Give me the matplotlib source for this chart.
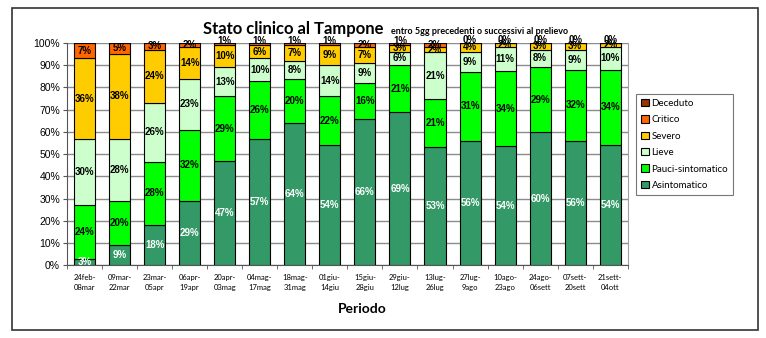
import numpy as np
import matplotlib.pyplot as plt
from matplotlib.patches import Patch, Rectangle

periodi = ['24feb-\n08mar', '09mar-\n22mar', '23mar-\n05apr', '06apr-\n19apr',
           '20apr-\n03mag', '04mag-\n17mag', '18mag-\n31mag', '01giu-\n14giu',
           '15giu-\n28giu', '29giu-\n12lug', '13lug-\n26lug', '27lug-\n9ago',
           '10ago-\n23ago', '24ago-\n06sett', '07sett-\n20sett', '21sett-\n04ott']

# valori in percentuale
asintomatico = [3, 9, 18.3, 29, 47, 57, 64, 54, 66, 69, 53.3, 56, 53.6, 60, 56, 54]
pauci = [24, 20, 28.3, 32, 29, 26, 20, 22, 16, 21, 21.3, 31, 33.8, 29, 32, 34]
lieve = [30, 28, 26.4, 23, 13, 10, 8, 14, 9, 6, 21.4, 9, 10.6, 8, 9, 10]
severo = [36, 38, 24, 14, 10, 6, 7, 9, 7, 3, 2, 4, 2, 3, 3, 2]
critico = [7, 5, 3, 2, 1, 1, 1, 1, 2, 1, 2, 0, 0, 0, 0, 0]
deceduto = [0, 0, 0, 0, 0.4, 0.3, 0, 0, 0, 0, 0, 0, 0, 0, 0, 0]

serie = [('Asintomatico', asintomatico, '#339966', 'white'),
         ('Pauci-sintomatico', pauci, '#00FF00', 'black'),
         ('Lieve', lieve, '#CCFFCC', 'black'),
         ('Severo', severo, '#FFCC00', 'black'),
         ('Critico', critico, '#FF6600', 'black'),
         ('Deceduto', deceduto, '#993300', None)]

fig = plt.figure(figsize=(7.66, 3.38), dpi=100)
ax = fig.add_axes([0.0875, 0.215, 0.732, 0.658])

x = np.arange(len(periodi))
bottom = np.zeros(len(periodi))
for nome, vals, col, txtcol in serie:
    vals = np.array(vals, dtype=float)
    ax.bar(x, vals, 0.6, bottom=bottom, color=col, edgecolor='black', linewidth=0.8, zorder=3)
    if txtcol is not None:
        for xi, b, v in zip(x, bottom, vals):
            ypos = b + v / 2
            if v < 1.5:
                ypos += 1.5  # etichette dei valori piccoli un po' sopra, come nell'originale
            ax.text(xi, ypos, '%d%%' % round(v), ha='center', va='center',
                    fontsize=7, fontweight='bold', color=txtcol,
                    family='Liberation Sans', zorder=4, clip_on=False)
    bottom += vals

ax.set_xlim(-0.5, len(periodi) - 0.5)
ax.set_ylim(0, 100)
ax.set_yticks(np.arange(0, 101, 10))
ax.set_yticklabels(['%d%%' % v for v in range(0, 101, 10)], family='Liberation Sans', fontsize=7.5)
ax.yaxis.grid(True, color='#8c8c8c', linewidth=1, zorder=0)
ax.set_xticks(x)
ax.set_xticklabels(periodi, family='Lato', fontsize=5.5, linespacing=1.5)
ax.set_xticks(np.arange(-0.5, len(periodi)), minor=True)
ax.tick_params(axis='x', which='major', length=0, pad=6)
ax.tick_params(axis='x', which='minor', length=3, color='#555555')
ax.tick_params(axis='y', length=3, color='#555555', pad=2)
for s in ['left', 'bottom']:
    ax.spines[s].set_color('#555555')
ax.spines['right'].set_color('#a0a0a0')
ax.spines['top'].set_visible(False)

fig.text(203 / 766, 1 - 34 / 338, 'Stato clinico al Tampone', family='Lato',
         fontsize=12, fontweight='bold', ha='left', va='baseline')
fig.text(391 / 766, 1 - 34 / 338, 'entro 5gg precedenti o successivi al prelievo',
         family='Lato', fontsize=6.5, fontweight='bold', ha='left', va='baseline')
fig.text(362 / 766, 1 - 309 / 338, 'Periodo', family='Lato', fontsize=10,
         fontweight='bold', ha='center', va='center')

handles = [Patch(facecolor=col, edgecolor='black', linewidth=0.8, label=nome)
           for nome, vals, col, t in serie[::-1]]
leg = fig.legend(handles=handles, loc='upper left', bbox_to_anchor=(636 / 766, 1 - 94 / 338),
                 prop={'family': 'Lato', 'size': 7}, frameon=True, fancybox=False,
                 edgecolor='#555555', handlelength=0.8, handleheight=0.8,
                 handletextpad=0.3, labelspacing=0.75, borderpad=0.5, borderaxespad=0)
leg.get_frame().set_linewidth(0.8)

fig.patches.append(Rectangle((12 / 766, 1 - 330 / 338), 746 / 766, 322 / 338,
                             transform=fig.transFigure, fill=False,
                             edgecolor='#333333', linewidth=1.2))

fig.savefig('out.png', dpi=100)
